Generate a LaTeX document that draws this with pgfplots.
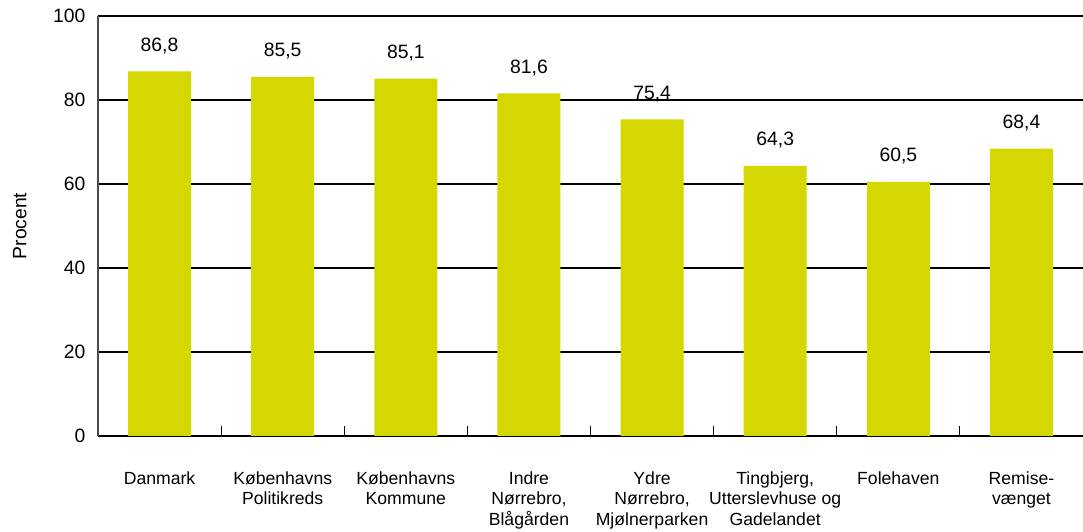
\documentclass[border=0pt]{standalone}
\usepackage{fontspec}
\setmainfont{Liberation Sans}
\usepackage{pgfplots}
\pgfplotsset{compat=1.18}
\definecolor{barcol}{RGB}{212,215,0}

\begin{document}
\begin{tikzpicture}
\begin{axis}[
    scale only axis,
    width=738.75pt, height=315pt,
    xmin=-0.5, xmax=7.5,
    ymin=0, ymax=100,
    ytick={0,20,40,60,80,100},
    xtick={0,...,7},
    xticklabels={Danmark,
        {Københavns\\Politikreds},
        {Københavns\\Kommune},
        {Indre\\Nørrebro,\\Blågården},
        {Ydre\\Nørrebro,\\Mjølnerparken},
        {Tingbjerg,\\Utterslevhuse og\\Gadelandet},
        Folehaven,
        {Remise-\\vænget}},
    axis x line*=bottom,
    axis y line*=left,
    major tick length=0pt,
    ymajorgrids,
    grid style={black, line width=0.8pt},
    x axis line style={-, line width=1.5pt, black},
    y axis line style={-, line width=0.8pt, black!70},
    xticklabel style={font=\fontsize{13.2}{15.4}\selectfont, align=center, anchor=north, yshift=-23pt},
    yticklabel style={font=\fontsize{14.5}{16}\selectfont, xshift=-6pt},
    /pgf/number format/assume math mode=true,
    ylabel={Procent},
    every axis y label/.style={font=\fontsize{14.5}{16}\selectfont, at={(ticklabel cs:0.5)}, rotate=90, anchor=south, yshift=13pt},
    ybar, bar width=47.25pt,
    nodes near coords,
    nodes near coords style={font=\fontsize{14.5}{16}\selectfont, anchor=south, inner sep=0pt, yshift=13pt,
        /pgf/number format/.cd, use comma, fixed, fixed zerofill, precision=1, assume math mode=true},
    clip=false,
]
\addplot[draw=none, fill=barcol] coordinates {
    (0,86.8) (1,85.5) (2,85.1) (3,81.6) (4,75.4) (5,64.3) (6,60.5) (7,68.4)
};
% separator ticks between categories, pointing up
\pgfplotsinvokeforeach{0.5,1.5,2.5,3.5,4.5,5.5,6.5}{
    \draw[black, line width=0.8pt] (axis cs:#1,0) -- ++(0pt,7.5pt);
}
\end{axis}
\pgfresetboundingbox
\path ([xshift=-73.5pt, yshift=-71.25pt]current axis.south west) rectangle ([yshift=12pt]current axis.north east);
\end{tikzpicture}
\end{document}
